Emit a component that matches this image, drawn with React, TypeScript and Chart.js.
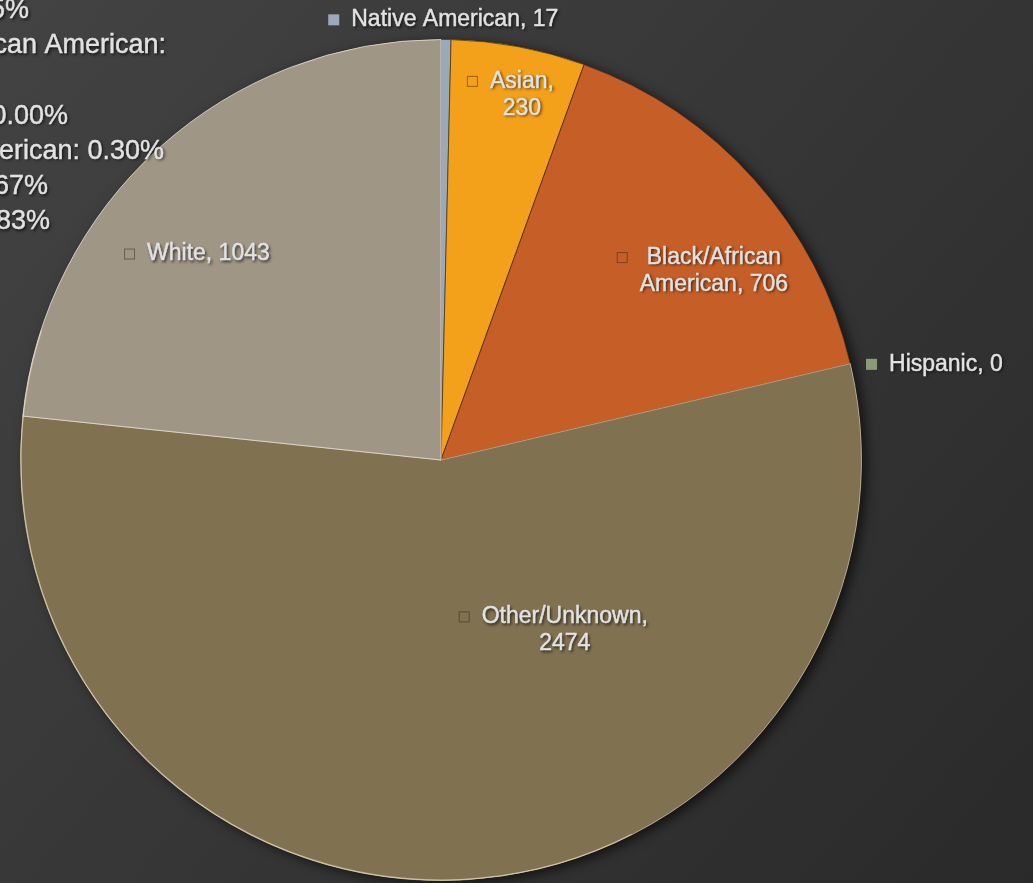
import React, { useEffect, useRef } from "react";
import { Chart, registerables } from "chart.js";

Chart.register(...registerables);

// ---------- data ----------
const categories = [
  "Native American",
  "Asian",
  "Black/African American",
  "Hispanic",
  "Other/Unknown",
  "White",
];
const counts = [17, 230, 706, 0, 2474, 1043];

// partially visible side note (cut off by the left edge in the reference)
const noteLines = [
  "Asian: 5.15%",
  "Black/African American:",
  "15.79%",
  "Hispanic: 0.00%",
  "Native American: 0.30%",
  "Other/Unknown: 55.67%",
  "White: 23.83%",
];

// ---------- style ----------
const sliceColors = ["#9aaabb", "#f3a01a", "#c65f27", "#8d9a78", "#807150", "#a09686"];
const sliceBorders = [
  "rgba(40,40,40,0.6)",
  "rgba(70,45,10,0.7)",
  "rgba(70,30,10,0.7)",
  "rgba(40,40,40,0.6)",
  "rgba(235,225,200,0.55)",
  "rgba(240,235,225,0.7)",
];
// [radius fraction, angle shift in degrees] for each data label
const labelPlacement: [number, number][] = [
  [1.052, 1.1],
  [0.894, 1.8],
  [0.792, 6.7],
  [1.223, 2.3],
  [0.497, -32.7],
  [0.742, -6.2],
];
const labelWrap = [9999, 75, 170, 9999, 190, 9999];
const labelInside = [false, true, true, false, true, true];
const noteRightEdges = [29, 166, -20, 68, 164, 48, 50];

const FONT = '"Liberation Sans", Arial, sans-serif';
const TEXT_COLOR = "#e2e2e2";

function wrapText(ctx: CanvasRenderingContext2D, text: string, maxW: number): string[] {
  const words = text.split(" ");
  const lines: string[] = [];
  let cur = "";
  for (const w of words) {
    const t = cur ? cur + " " + w : w;
    if (cur && ctx.measureText(t).width > maxW) {
      lines.push(cur);
      cur = w;
    } else cur = t;
  }
  if (cur) lines.push(cur);
  return lines;
}

function shadowText(ctx: CanvasRenderingContext2D, s: string, x: number, y: number) {
  ctx.save();
  ctx.shadowColor = "rgba(0,0,0,0.75)";
  ctx.shadowBlur = 3;
  ctx.shadowOffsetX = 1.5;
  ctx.shadowOffsetY = 1.5;
  ctx.fillStyle = TEXT_COLOR;
  ctx.fillText(s, x, y);
  ctx.restore();
  ctx.save();
  ctx.strokeStyle = TEXT_COLOR;
  ctx.lineWidth = 0.45;
  ctx.strokeText(s, x, y);
  ctx.restore();
}

const backgroundPlugin = {
  id: "bgPlugin",
  beforeDraw(chart: any) {
    const { ctx, width, height } = chart;
    ctx.save();
    const g = ctx.createLinearGradient(0, 0, width, height);
    g.addColorStop(0, "#434343");
    g.addColorStop(0.5, "#363636");
    g.addColorStop(1, "#2a2a2a");
    ctx.fillStyle = g;
    ctx.fillRect(0, 0, width, height);
    ctx.restore();
  },
  beforeDatasetsDraw(chart: any) {
    const meta = chart.getDatasetMeta(0);
    const arc = meta.data[0];
    if (!arc) return;
    const { ctx } = chart;
    ctx.save();
    ctx.shadowColor = "rgba(0,0,0,0.65)";
    ctx.shadowBlur = 12;
    ctx.shadowOffsetX = 5;
    ctx.shadowOffsetY = 3;
    ctx.beginPath();
    ctx.arc(arc.x, arc.y, arc.outerRadius, 0, Math.PI * 2);
    ctx.fillStyle = sliceColors[4];
    ctx.fill();
    ctx.restore();
  },
};

const labelPlugin = {
  id: "labelPlugin",
  afterDatasetsDraw(chart: any) {
    const { ctx } = chart;
    const meta = chart.getDatasetMeta(0);
    ctx.save();
    // light bevel on lower-left rim
    const a0 = meta.data[0];
    if (a0) {
      ctx.beginPath();
      ctx.arc(a0.x, a0.y, a0.outerRadius - 0.5, Math.PI * 0.35, Math.PI * 1.1);
      ctx.strokeStyle = "rgba(240,230,200,0.55)";
      ctx.lineWidth = 1.2;
      ctx.stroke();
    }
    ctx.font = `23px ${FONT}`;
    ctx.textAlign = "center";
    ctx.textBaseline = "middle";
    const lineH = 27;
    meta.data.forEach((arc: any, i: number) => {
      const mid = (arc.startAngle + arc.endAngle) / 2;
      const [frac, shift] = labelPlacement[i];
      const ang = mid + (shift * Math.PI) / 180;
      const cx = arc.x + Math.cos(ang) * arc.outerRadius * frac;
      const cy = arc.y + Math.sin(ang) * arc.outerRadius * frac + 2;
      const text = `${categories[i]}, ${counts[i]}`;
      const lines = wrapText(ctx, text, labelWrap[i]);
      const maxW = Math.max(...lines.map((l) => ctx.measureText(l).width));
      const top = cy - ((lines.length - 1) * lineH) / 2;
      // marker
      const ms = 11;
      const mx = cx - maxW / 2 - 12 - ms;
      const my = top - ms / 2;
      ctx.save();
      ctx.fillStyle = sliceColors[i];
      ctx.fillRect(mx, my, ms, ms);
      if (labelInside[i]) {
        ctx.strokeStyle = "rgba(40,30,20,0.45)";
        ctx.lineWidth = 1;
        ctx.strokeRect(mx + 0.5, my + 0.5, ms - 1, ms - 1);
      }
      ctx.restore();
      lines.forEach((l, k) => shadowText(ctx, l, cx, top + k * lineH));
    });
    // side note
    ctx.font = `27px ${FONT}`;
    ctx.textAlign = "right";
    ctx.textBaseline = "alphabetic";
    noteLines.forEach((l, k) => {
      shadowText(ctx, l, noteRightEdges[k], 18 + k * 35.2);
    });
    ctx.restore();
  },
};

export default function App() {
  const ref = useRef<HTMLCanvasElement | null>(null);
  useEffect(() => {
    if (!ref.current) return;
    const chart = new Chart(ref.current, {
      type: "pie",
      data: {
        labels: categories,
        datasets: [
          {
            data: counts,
            backgroundColor: sliceColors,
            borderColor: sliceBorders,
            borderWidth: 1,
          },
        ],
      },
      options: {
        responsive: false,
        animation: false,
        layout: { padding: { left: 20, right: 171, top: 39, bottom: 2 } },
        plugins: {
          legend: { display: false },
          tooltip: { enabled: false },
          title: { display: false },
        },
      },
      plugins: [backgroundPlugin, labelPlugin],
    });
    return () => chart.destroy();
  }, []);
  return (
    <div style={{ position: "fixed", left: 0, top: 0, width: 1033, height: 883 }}>
      <canvas ref={ref} width={1033} height={883} style={{ display: "block" }} />
    </div>
  );
}
